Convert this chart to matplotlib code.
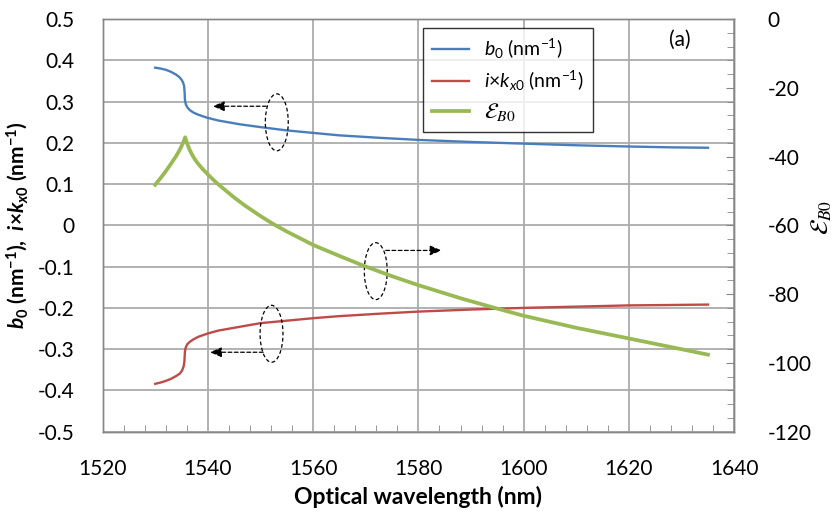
import matplotlib
matplotlib.use("Agg")
import matplotlib.pyplot as plt
from matplotlib.patches import Ellipse
from matplotlib.ticker import MultipleLocator, FuncFormatter

plt.rcParams['font.family'] = ['Lato', 'DejaVu Sans']
plt.rcParams['mathtext.fontset'] = 'custom'
plt.rcParams['mathtext.rm'] = 'Lato'
plt.rcParams['mathtext.it'] = 'Lato:italic'
plt.rcParams['mathtext.bf'] = 'Lato:bold'
plt.rcParams['mathtext.bfit'] = 'Lato:bold:italic'
plt.rcParams['axes.unicode_minus'] = False

# ---- data ----
wl_b = [1530, 1531, 1532, 1533, 1534, 1534.6, 1535.0, 1535.3, 1535.5, 1535.6,
        1535.65, 1535.8, 1536.1, 1536.6, 1537.3, 1538.2, 1539.8, 1542, 1546, 1550,
        1555, 1560, 1565, 1572.7, 1580, 1590, 1600, 1610, 1620, 1628, 1635]
b0 = [0.382, 0.380, 0.377, 0.372, 0.365, 0.359, 0.353, 0.346, 0.337, 0.320,
      0.304, 0.294, 0.286, 0.279, 0.273, 0.268, 0.261, 0.254, 0.245, 0.238,
      0.230, 0.224, 0.218, 0.212, 0.207, 0.202, 0.198, 0.194, 0.191, 0.189, 0.188]

wl_k = [1530, 1531, 1532, 1533, 1534, 1534.7, 1535.1, 1535.4, 1535.55, 1535.65,
        1535.8, 1536.1, 1536.6, 1537.3, 1538.2, 1540, 1542, 1546, 1550, 1555,
        1560, 1565, 1572.7, 1580, 1590, 1600, 1610, 1620, 1628, 1635]
ikx0 = [-0.384, -0.381, -0.377, -0.372, -0.365, -0.359, -0.352, -0.342, -0.330, -0.306,
        -0.296, -0.288, -0.282, -0.276, -0.270, -0.262, -0.255, -0.246, -0.237, -0.231,
        -0.225, -0.220, -0.214, -0.209, -0.204, -0.200, -0.197, -0.194, -0.193, -0.192]

wl_e = [1530, 1531, 1532, 1533, 1534, 1534.5, 1535.0, 1535.3, 1535.7, 1536.0,
        1536.5, 1537.0, 1537.5, 1538.0, 1539.0, 1540, 1541, 1542, 1543.5, 1545,
        1547, 1550, 1552.4, 1555, 1560, 1565, 1569.5, 1575, 1580, 1588,
        1594, 1600, 1610, 1620, 1628, 1635]
eps_b0 = [-48.2, -46.3, -44.3, -42.1, -39.8, -38.5, -37.0, -36.0, -34.4, -35.9,
          -37.9, -39.4, -40.7, -41.8, -43.6, -45.2, -46.7, -48.1, -50.0, -51.9,
          -54.2, -57.3, -59.6, -61.8, -65.7, -68.9, -71.7, -74.8, -77.4, -81.2,
          -83.8, -86.3, -89.8, -92.9, -95.4, -97.6]

labels = [r'$b_0$ (nm$^{-1}$)', r'$i$×$k_{x0}$ (nm$^{-1}$)', r'$\mathcal{E}_{B0}$']
colors = ['#4a7ebb', '#be4b48', '#98b954']

fig = plt.figure(figsize=(8.37, 5.16), dpi=100)
ax = fig.add_axes([0.1225, 0.1634, 0.7548, 0.7998])
ax2 = ax.twinx()

l1, = ax.plot(wl_b, b0, color=colors[0], lw=1.7, label=labels[0])
l2, = ax.plot(wl_k, ikx0, color=colors[1], lw=1.7, label=labels[1])
l3, = ax2.plot(wl_e, eps_b0, color=colors[2], lw=2.7, label=labels[2])

ax.set_xlim(1520, 1640)
ax.set_ylim(-0.5, 0.5)
ax2.set_ylim(-120, 0)

ax.xaxis.set_major_locator(MultipleLocator(20))
ax.xaxis.set_minor_locator(MultipleLocator(4))
ax.yaxis.set_major_locator(MultipleLocator(0.1))
ax2.yaxis.set_major_locator(MultipleLocator(20))
ax2.yaxis.set_minor_locator(MultipleLocator(4))

ax.yaxis.set_major_formatter(FuncFormatter(lambda v, p: '0' if abs(v) < 1e-9 else f'{v:.1f}'))
ax2.yaxis.set_major_formatter(FuncFormatter(lambda v, p: f'{int(round(v))}'))

ax.grid(True, which='major', color='#ababab', lw=1.3)
ax.set_axisbelow(True)

spine_c = '#868686'
for a in (ax, ax2):
    for s in a.spines.values():
        s.set_color(spine_c)
        s.set_linewidth(1.0)

ax.tick_params(axis='x', which='major', length=0, pad=20, labelsize=15)
ax.tick_params(axis='x', which='minor', direction='in', length=5, color=spine_c)
ax.tick_params(axis='y', which='both', length=0, pad=20, labelsize=15)
ax2.tick_params(axis='y', which='major', direction='in', length=6, color=spine_c, pad=24, labelsize=15)
ax2.tick_params(axis='y', which='minor', direction='in', length=5, color=spine_c)

ax.set_xlabel('Optical wavelength (nm)', fontsize=16.5, fontweight='bold', labelpad=5)
ax.set_ylabel(r'$\mathbfit{b}_\mathbf{0}$ (nm$^\mathbf{-1}$),  $\mathbfit{i}$×$\mathbfit{k}_{\mathbfit{x}\mathbf{0}}$ (nm$^\mathbf{-1}$)',
              fontsize=15, fontweight='bold', labelpad=6)
t2 = fig.text(822 / 837, 1 - 217 / 516, r'$\mathcal{E}_{B0}$', fontsize=18, rotation=90,
              ha='center', va='center')
t2.set_math_fontfamily('stix')

# annotation ellipses and arrows (left-axis data coordinates)
for (cx, cy) in [(1553.1, 0.2496), (1552.1, -0.2628), (1571.9, -0.111)]:
    ax.add_patch(Ellipse((cx, cy), 4.35, 0.138, fill=False, ec='black', lw=0.9, ls=(0, (3, 2)), zorder=5))
for (xs, ys, xe, ye) in [(1551.1, 0.2886, 1540.95, 0.2886),
                         (1550.5, -0.3075, 1540.4, -0.3075),
                         (1573.8, -0.0608, 1584.4, -0.0608)]:
    ax.annotate('', xy=(xe, ye), xytext=(xs, ys),
                arrowprops=dict(arrowstyle='-|>,head_length=0.7,head_width=0.3', lw=0.9,
                                ls=(0, (3, 2)), color='black', shrinkA=0, shrinkB=0))

leg = ax2.legend(handles=[l1, l2, l3], loc='upper left', bbox_to_anchor=(0.507, 0.977),
                 fontsize=14, frameon=True, fancybox=False, edgecolor='black',
                 handlelength=1.9, handletextpad=0.8, borderpad=0.45, labelspacing=0.4,
                 borderaxespad=0)
leg.get_frame().set_linewidth(1.0)
leg.get_texts()[2].set_math_fontfamily('stix')
leg.get_texts()[2].set_fontsize(16)

ax2.text(0.914, 0.949, '(a)', transform=ax2.transAxes, fontsize=15, ha='center', va='center')

fig.savefig('out.png', dpi=100)
